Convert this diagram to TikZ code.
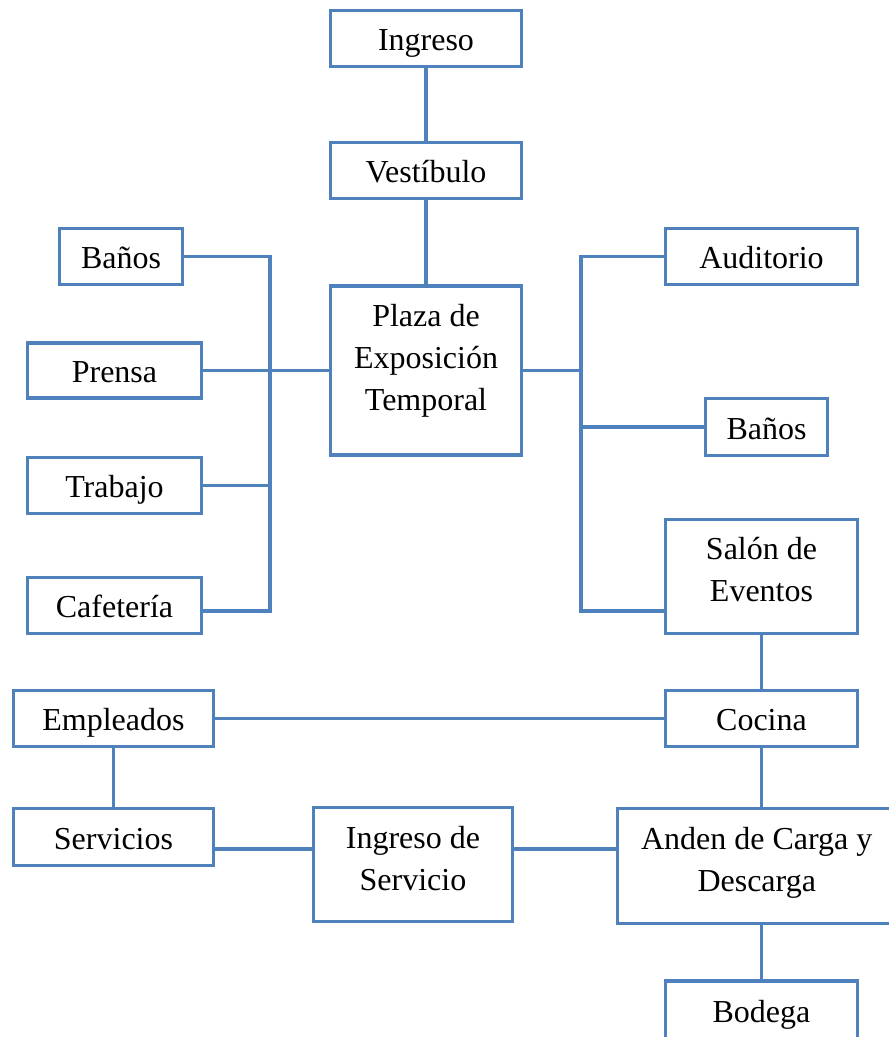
\documentclass[tikz,border=0pt]{standalone}
\usepackage{fontspec}
\setmainfont{Liberation Serif}
\definecolor{boxblue}{HTML}{4F81BD}
\newcommand{\topst}[1]{\rule{0pt}{#1}}
\newcommand{\botst}[1]{\rule[-#1]{0pt}{#1}}
\begin{document}
\begin{tikzpicture}[x=1pt,y=-1pt,
  box/.style={draw=boxblue, line width=3.4pt, fill=white, inner sep=0pt, outer sep=0pt,
    font=\fontsize{32}{42}\selectfont},
  one/.style={text height=26pt, text depth=2pt},
  multi/.style={align=center},
  conn/.style={draw=boxblue, line width=3.4pt}]
\useasboundingbox (0,0) rectangle (889,1037);
\clip (0,0) rectangle (889,1037);

% top column
\node[box,one,minimum width=191pt,minimum height=56pt] (ingreso) at (426,38.5) {Ingreso};
\node[box,one,minimum width=191pt,minimum height=56pt] (vest) at (426,170.5) {Vestíbulo};
\node[box,multi,minimum width=191pt,minimum height=169pt] (plaza) at (426,370.5)
  {\topst{22pt}Plaza de\\Exposición\\Temporal\botst{26pt}};

% left branch
\node[box,one,minimum width=123pt,minimum height=56pt] (banosL) at (121,256.5) {Baños};
\node[box,one,minimum width=174pt,minimum height=55pt] (prensa) at (114.5,370.5) {Prensa};
\node[box,one,minimum width=174pt,minimum height=56pt] (trabajo) at (114.5,485.5) {Trabajo};
\node[box,one,minimum width=174pt,minimum height=56pt] (cafe) at (114.5,605.5) {Cafetería};

% right branch
\node[box,one,minimum width=192pt,minimum height=56pt] (audit) at (761.5,256.5) {Auditorio};
\node[box,one,minimum width=122pt,minimum height=57pt] (banosR) at (766.5,427) {Baños};
\node[box,multi,minimum width=192pt,minimum height=114pt] (salon) at (761.5,576.5)
  {\topst{22pt}Salón de\\Eventos\botst{15pt}};

% lower part
\node[box,one,minimum width=192pt,minimum height=56pt] (cocina) at (761.5,718.5) {Cocina};
\node[box,one,minimum width=200pt,minimum height=56pt] (empleados) at (113.5,718.5) {Empleados};
\node[box,one,minimum width=200pt,minimum height=57pt] (servicios) at (113.5,837) {Servicios};
\node[box,multi,minimum width=199pt,minimum height=114pt] (ingserv) at (413,864.5)
  {\topst{23pt}Ingreso de\\Servicio\botst{14pt}};
\node[box,multi,minimum width=278.5pt,minimum height=115pt] (anden) at (756.75,866)
  {\topst{22pt}Anden de Carga y\\Descarga\botst{14pt}};
\node[box,one,minimum width=192pt,minimum height=58pt] (bodega) at (761.5,1010) {Bodega};

% connectors
\draw[conn] (ingreso) -- (vest);
\draw[conn] (vest) -- (plaza);

\coordinate (lbus) at (270,611);
\draw[conn] (banosL.east) -| (lbus) -- (lbus -| cafe.east);
\draw[conn] (prensa.east) -- (plaza.west);
\draw[conn] (trabajo.east) -- (trabajo.east -| lbus);

\coordinate (rbus) at (581,611);
\draw[conn] (audit.west) -| (rbus) -- (rbus -| salon.west);
\draw[conn] (plaza.east) -- (plaza.east -| rbus);
\draw[conn] (banosR.west) -- (banosR.west -| rbus);

\draw[conn] (salon) -- (cocina);
\draw[conn] (empleados) -- (cocina);
\draw[conn] (empleados) -- (servicios);

\coordinate (sy) at (0,849);
\draw[conn] (servicios.east |- sy) -- (ingserv.west |- sy);
\draw[conn] (ingserv.east |- sy) -- (anden.west |- sy);
\draw[conn] (cocina.south) -- (cocina.south |- anden.north);
\draw[conn] (bodega.north) -- (bodega.north |- anden.south);
\end{tikzpicture}
\end{document}
